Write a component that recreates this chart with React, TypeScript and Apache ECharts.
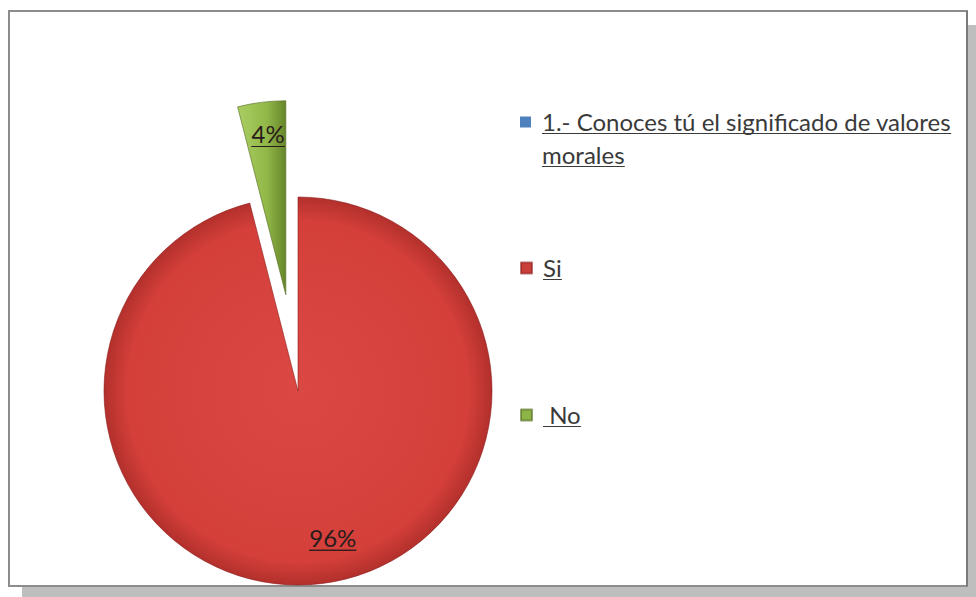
import React, { useEffect, useRef } from 'react';
import * as echarts from 'echarts';

// ---- data ----
const categories = ['1.- Conoces tú el significado de valores morales', 'Si', ' No'];
const values = [0, 96, 4];
const legendLines = [['1.- Conoces tú el significado de valores', 'morales'], ['Si'], [' No']];

// ---- styles / layout ----
const W = 976;
const H = 597;
const CENTER = [298, 391];
const RADIUS = 194;
const LABEL_R0 = 115;
const EXPLODE = 97;
const FONT = 'Lato';
const FONT_SIZE = 24;
const TEXT_COLOR = '#3a3a3a';
const LEGEND_LEFT = 520;
const LEGEND_TOPS = [109, 255, 402];
const LINE_GAP = 33;

const legendColors = ['#4F81BD', '#C9403B', '#8DB446'];
const sliceFills: any[] = [
  '#4F81BD',
  {
    type: 'radial', x: 0.5, y: 0.5, r: 0.5,
    colorStops: [
      { offset: 0, color: '#DB4843' },
      { offset: 0.88, color: '#D43F3A' },
      { offset: 1, color: '#B3302C' },
    ],
  },
  {
    type: 'linear', x: 0, y: 0, x2: 1, y2: 0,
    colorStops: [
      { offset: 0, color: '#AACE62' },
      { offset: 0.6, color: '#92B849' },
      { offset: 1, color: '#66862A' },
    ],
  },
];
const labelPaddings = [[0, 0, 0, 0], [0, 0, 18, 30], [0, 0, 8, 4]];

const richText = {
  t: { fontFamily: FONT, fontSize: FONT_SIZE, lineHeight: 23, color: TEXT_COLOR, align: 'left' },
  hr: { width: '100%', height: 0, borderColor: TEXT_COLOR, borderWidth: 1, lineHeight: 2, align: 'left' },
};

export default function App() {
  const ref = useRef<HTMLDivElement>(null);

  useEffect(() => {
    if (!ref.current) return;
    const chart = echarts.init(ref.current, null, { renderer: 'svg' });

    const legends = categories.map((name, i) => ({
      orient: 'vertical',
      left: LEGEND_LEFT,
      top: LEGEND_TOPS[i],
      padding: 0,
      itemWidth: 11,
      itemHeight: 11,
      icon: 'rect',
      selectedMode: false,
      data: [{ name, itemStyle: { color: legendColors[i] } }],
      formatter: () => `{t|${legendLines[i][0]}}\n{hr|}`,
      textStyle: { padding: [0, 0, 0, 6], rich: richText },
    }));

    const extraLines: any[] = [];
    legendLines.forEach((lines, i) => {
      lines.slice(1).forEach((line, j) => {
        extraLines.push({
          type: 'text',
          x: LEGEND_LEFT + 11 + 5 + 6,
          y: LEGEND_TOPS[i] + 13 + LINE_GAP * (j + 1),
          z: 10,
          style: {
            text: `{t|${line}}\n{hr|}`,
            verticalAlign: 'middle',
            align: 'left',
            rich: {
              t: { fontFamily: FONT, fontSize: FONT_SIZE, lineHeight: 23, fill: TEXT_COLOR, align: 'left' },
              hr: { width: '100%', height: 0, borderColor: TEXT_COLOR, borderWidth: 1, lineHeight: 2, align: 'left' },
            },
          },
        });
      });
    });

    const pieData = categories.map((name, i) => ({
      name,
      value: values[i],
      selected: i === 2,
      itemStyle: {
        color: sliceFills[i],
        borderColor: i === 1 ? 'rgba(140,30,28,0.6)' : i === 2 ? 'rgba(80,105,30,0.6)' : 'transparent',
        borderWidth: values[i] > 0 ? 1 : 0,
      },
    }));

    const labelData = categories.map((name, i) => ({
      name,
      value: values[i],
      selected: i === 2,
      label: { show: values[i] > 0, padding: labelPaddings[i] },
    }));

    const option: any = {
      animation: false,
      backgroundColor: '#ffffff',
      graphic: [
        { type: 'rect', z: -10, shape: { x: 22, y: 25, width: W - 22, height: H - 25 }, style: { fill: '#BEBEBE' } },
        { type: 'rect', z: -9, shape: { x: 9, y: 11, width: 958, height: 575 }, style: { fill: '#ffffff', stroke: '#8C8C8C', lineWidth: 2 } },
        { type: 'line', z: -8, shape: { x1: 967, y1: 11, x2: 967, y2: 586 }, style: { stroke: '#7a7a7a', lineWidth: 2 } },
        ...extraLines,
      ],
      legend: legends,
      series: [
        {
          type: 'pie',
          center: CENTER,
          radius: RADIUS,
          startAngle: 90,
          clockwise: true,
          selectedMode: 'single',
          selectedOffset: EXPLODE,
          silent: true,
          label: { show: false },
          labelLine: { show: false },
          emphasis: { disabled: true },
          data: pieData,
        },
        {
          type: 'pie',
          z: 5,
          center: CENTER,
          radius: [LABEL_R0, RADIUS],
          startAngle: 90,
          clockwise: true,
          selectedMode: 'single',
          selectedOffset: EXPLODE,
          silent: true,
          itemStyle: { color: 'rgba(0,0,0,0)', borderWidth: 0 },
          labelLine: { show: false },
          emphasis: { disabled: true },
          label: {
            show: true,
            position: 'inside',
            rotate: 0,
            formatter: (p: any) => `{t|${Math.round(p.percent)}%}\n{hr|}`,
            rich: {
              t: { fontFamily: FONT, fontSize: 24, lineHeight: 24, color: '#2a1c1c', align: 'left' },
              hr: { width: '100%', height: 0, borderColor: '#2a1c1c', borderWidth: 1, lineHeight: 2, align: 'left' },
            },
          },
          data: labelData,
        },
      ],
    };

    chart.setOption(option);
    return () => chart.dispose();
  }, []);

  return (
    <div
      ref={ref}
      style={{ position: 'absolute', left: 0, top: 0, width: W, height: H }}
    />
  );
}
